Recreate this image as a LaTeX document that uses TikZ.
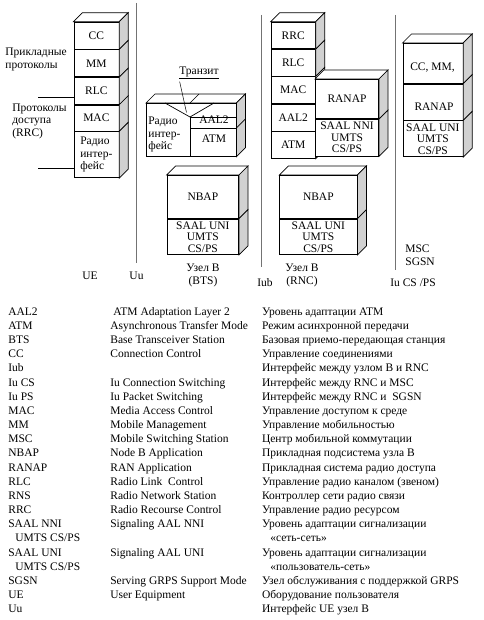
\documentclass[tikz,border=0pt]{standalone}
\usepackage{fontspec}
\setmainfont{Liberation Serif}
\usetikzlibrary{positioning,calc}
\definecolor{sidegray}{gray}{0.82}
\definecolor{linegray}{gray}{0.45}
\newcommand{\dpx}{9}
\tikzset{
 >=stealth,
 every node/.style={font=\fontsize{11.5}{12.5}\selectfont},
 layer/.style={draw, fill=white, inner sep=0pt, align=center},
 leg/.style={anchor=base west, inner sep=0pt},
 iface/.style={linegray, line width=0.9pt}
}
% top and side faces of a layer
\newcommand{\boxtop}[2]{\draw[fill=white] (#1.north west) -- ++(\dpx,-\dpx) -- ($(#2.north east)+(\dpx,-\dpx)$) -- (#2.north east) -- cycle;}
\newcommand{\boxside}[1]{\draw[fill=sidegray] (#1.north east) -- ++(\dpx,-\dpx) -- ($(#1.south east)+(\dpx,-\dpx)$) -- (#1.south east) -- cycle;}

\begin{document}
\begin{tikzpicture}[x=1pt,y=-1pt,line width=0.7pt]
\useasboundingbox (0,0) rectangle (483,620);

% UE
\path (73.5,21.7) node[layer,anchor=north west,minimum width=45,minimum height=27,name=uecc] {CC};
\node[layer,below=0pt of uecc,minimum width=45,minimum height=27,name=uemm] {MM};
\node[layer,below=0pt of uemm,minimum width=45,minimum height=27,name=uerlc] {RLC};
\node[layer,below=0pt of uerlc,minimum width=45,minimum height=26,name=uemac] {MAC};
\node[layer,below=0pt of uemac,minimum width=45,minimum height=46,name=uerad,align=left] {Радио\\интер-\\фейс};
\boxtop{uecc}{uecc}
\boxside{uecc}\boxside{uemm}\boxside{uerlc}\boxside{uemac}\boxside{uerad}

\path (5,59.5) node[anchor=west,align=left,inner sep=0pt,name=app] {Прикладные\\протоколы};
\path (12,121) node[anchor=west,align=left,inner sep=0pt,name=acc] {Протоколы\\доступа\\(RRC)};
\coordinate (rrctop) at (38,97);
\coordinate (rrcbot) at (38,168);
\draw (rrctop) -- (rrctop -| uemac.west);
\draw (rrcbot) -- (rrcbot -| uerad.west);

\coordinate (uutop) at (136.7,3);
\coordinate (uubot) at (136.7,263);
\draw[iface] (uutop) -- (uubot);
\path (90,276) node[name=ue] {UE};
\path (136.5,276) node[name=uu] {Uu};

% transit
\path (146,103) node[layer,anchor=north west,minimum width=89.7,minimum height=53,name=trfront] {};
\coordinate (trv) at (190,117);
\boxtop{trfront}{trfront}
\draw[fill=sidegray] (trfront.north east) -- ++(\dpx,-\dpx) -- ($(trfront.south east)+(\dpx,-\dpx)$) -- (trfront.south east) -- cycle;
\draw ($(trfront.north east)+(0,25)$) -- ++(\dpx,-\dpx);
\draw (190,103) -- ++(\dpx,-\dpx);
\draw (165,103) -- (trv) -- (214,103);
\draw (trv) -- (trv |- trfront.south);
\draw (trv) -- (trv -| trfront.east);
\draw (190,128) -- (235.7,128);
\path (148,134.5) node[anchor=west,align=left,inner sep=0pt,name=trrad] {Радио\\интер-\\фейс};
\path (214,120) node[name=traal] {AAL2};
\path (214,138.5) node[name=tratm] {ATM};
\path (199,73) node[name=transit] {\underline{Транзит}};
\coordinate (trpt) at (186.5,112.5);
\draw[line width=0.5pt] ($(transit.south west)+(4,-1)$) -- (trpt);

% BTS
\path (166.7,175) node[layer,anchor=north west,minimum width=71.6,minimum height=43,name=btsnbap] {NBAP};
\node[layer,below=0pt of btsnbap,minimum width=71.6,minimum height=35.5,name=btssaal,font=\fontsize{11.5}{11.5}\selectfont] {SAAL UNI\\UMTS\\CS/PS};
\boxtop{btsnbap}{btsnbap}
\boxside{btsnbap}\boxside{btssaal}
\path (203,275.5) node[align=center,name=bts] {Узел B\\(BTS)};

\coordinate (iubtop) at (261.7,15);
\coordinate (iubbot) at (261.7,267);
\draw[iface] (iubtop) -- (iubbot);
\path (265,283) node[name=iub] {Iub};

% RNC
\path (270.7,21.7) node[layer,anchor=north west,minimum width=44.3,minimum height=26.7,name=rncrrc] {RRC};
\node[layer,below=0pt of rncrrc,minimum width=44.3,minimum height=26.7,name=rncrlc] {RLC};
\node[layer,below=0pt of rncrlc,minimum width=44.3,minimum height=26.7,name=rncmac] {MAC};
\node[layer,below=0pt of rncmac,minimum width=44.3,minimum height=26.7,name=rncaal] {AAL2};
\node[layer,below=0pt of rncaal,minimum width=44.3,minimum height=26.7,name=rncatm] {ATM};
\boxtop{rncrrc}{rncrrc}
\boxside{rncrrc}\boxside{rncrlc}\boxside{rncmac}\boxside{rncaal}\boxside{rncatm}

\path (315,79) node[layer,anchor=north west,minimum width=63.3,minimum height=39.3,name=rncranap] {RANAP};
\node[layer,below=0pt of rncranap,minimum width=63.3,minimum height=36.7,name=rncsaal,font=\fontsize{11.5}{11.5}\selectfont] {SAAL NNI\\UMTS\\CS/PS};
\boxtop{rncranap}{rncranap}
\boxside{rncranap}\boxside{rncsaal}

\path (279.3,175) node[layer,anchor=north west,minimum width=77.4,minimum height=43,name=rncnbap] {NBAP};
\node[layer,below=0pt of rncnbap,minimum width=77.4,minimum height=35.5,name=rncsaaluni,font=\fontsize{11.5}{11.5}\selectfont] {SAAL UNI\\UMTS\\CS/PS};
\boxtop{rncnbap}{rncnbap}
\boxside{rncnbap}\boxside{rncsaaluni}
\path (302,275.5) node[align=center,name=rnc] {Узел B\\(RNC)};

\coordinate (iutop) at (395,15);
\coordinate (iubot) at (395,270);
\draw[iface] (iutop) -- (iubot);
\path (405,255) node[anchor=west,align=left,inner sep=0pt,name=msc] {MSC\\SGSN};
\path (390,283) node[anchor=west,inner sep=0pt,name=iucsps] {Iu CS /PS};

% MSC / SGSN
\path (402.5,43) node[layer,anchor=north west,minimum width=60,minimum height=40,name=msccc] {};
\node[layer,below=0pt of msccc,minimum width=60,minimum height=36,name=mscranap] {};
\node[layer,below=0pt of mscranap,minimum width=60,minimum height=36,name=mscsaal,font=\fontsize{11.5}{11.5}\selectfont] {SAAL UNI\\UMTS\\CS/PS};
\boxtop{msccc}{msccc}
\boxside{msccc}\boxside{mscranap}\boxside{mscsaal}
\path (432.5,68) node[name=mscccx] {CC, MM,};
\path (434,106.5) node[name=mscranapx] {RANAP};

% legend
\path (8,315.1) node[leg,name=a0] {AAL2} (113,315.1) node[leg,name=b0] {ATM Adaptation Layer 2} (261.7,315.1) node[leg,name=c0] {Уровень адаптации ATM};
\path (8,329.3) node[leg,name=a1] {ATM} (110,329.3) node[leg,name=b1] {Asynchronous Transfer Mode} (261.7,329.3) node[leg,name=c1] {Режим асинхронной передачи};
\path (8,343.4) node[leg,name=a2] {BTS} (110,343.4) node[leg,name=b2] {Base Transceiver Station} (261.7,343.4) node[leg,name=c2] {Базовая приемо-передающая станция};
\path (8,357.6) node[leg,name=a3] {CC} (110,357.6) node[leg,name=b3] {Connection Control} (261.7,357.6) node[leg,name=c3] {Управление соединениями};
\path (8,371.8) node[leg,name=a4] {Iub} (261.7,371.8) node[leg,name=c4] {Интерфейс между узлом B и RNC};
\path (8,386.0) node[leg,name=a5] {Iu CS} (110,386.0) node[leg,name=b5] {Iu Connection Switching} (261.7,386.0) node[leg,name=c5] {Интерфейс между RNC и MSC};
\path (8,400.1) node[leg,name=a6] {Iu PS} (110,400.1) node[leg,name=b6] {Iu Packet Switching} (261.7,400.1) node[leg,name=c6] {Интерфейс между RNC и~ SGSN};
\path (8,414.3) node[leg,name=a7] {MAC} (110,414.3) node[leg,name=b7] {Media Access Control} (261.7,414.3) node[leg,name=c7] {Управление доступом к среде};
\path (8,428.5) node[leg,name=a8] {MM} (110,428.5) node[leg,name=b8] {Mobile Management} (261.7,428.5) node[leg,name=c8] {Управление мобильностью};
\path (8,442.6) node[leg,name=a9] {MSC} (110,442.6) node[leg,name=b9] {Mobile Switching Station} (261.7,442.6) node[leg,name=c9] {Центр мобильной коммутации};
\path (8,456.8) node[leg,name=a10] {NBAP} (110,456.8) node[leg,name=b10] {Node B Application} (261.7,456.8) node[leg,name=c10] {Прикладная подсистема узла B};
\path (8,471.0) node[leg,name=a11] {RANAP} (110,471.0) node[leg,name=b11] {RAN Application} (261.7,471.0) node[leg,name=c11] {Прикладная система радио доступа};
\path (8,485.1) node[leg,name=a12] {RLC} (110,485.1) node[leg,name=b12] {Radio Link~ Control} (261.7,485.1) node[leg,name=c12] {Управление радио каналом (звеном)};
\path (8,499.3) node[leg,name=a13] {RNS} (110,499.3) node[leg,name=b13] {Radio Network Station} (261.7,499.3) node[leg,name=c13] {Контроллер сети радио связи};
\path (8,513.5) node[leg,name=a14] {RRC} (110,513.5) node[leg,name=b14] {Radio Recourse Control} (261.7,513.5) node[leg,name=c14] {Управление радио ресурсом};
\path (8,527.7) node[leg,name=a15] {SAAL NNI} (110,527.7) node[leg,name=b15] {Signaling AAL NNI} (261.7,527.7) node[leg,name=c15] {Уровень адаптации сигнализации};
\path (15,541.8) node[leg,name=a16] {UMTS CS/PS} (270,541.8) node[leg,name=c16] {«сеть-сеть»};
\path (8,556.0) node[leg,name=a17] {SAAL UNI} (110,556.0) node[leg,name=b17] {Signaling AAL UNI} (261.7,556.0) node[leg,name=c17] {Уровень адаптации сигнализации};
\path (15,570.2) node[leg,name=a18] {UMTS CS/PS} (270,570.2) node[leg,name=c18] {«пользователь-сеть»};
\path (8,584.3) node[leg,name=a19] {SGSN} (110,584.3) node[leg,name=b19] {Serving GRPS Support Mode} (261.7,584.3) node[leg,name=c19] {Узел обслуживания с поддержкой GRPS};
\path (8,598.5) node[leg,name=a20] {UE} (110,598.5) node[leg,name=b20] {User Equipment} (261.7,598.5) node[leg,name=c20] {Оборудование пользователя};
\path (8,612.7) node[leg,name=a21] {Uu} (261.7,612.7) node[leg,name=c21] {Интерфейс UE узел B};
\end{tikzpicture}
\end{document}
